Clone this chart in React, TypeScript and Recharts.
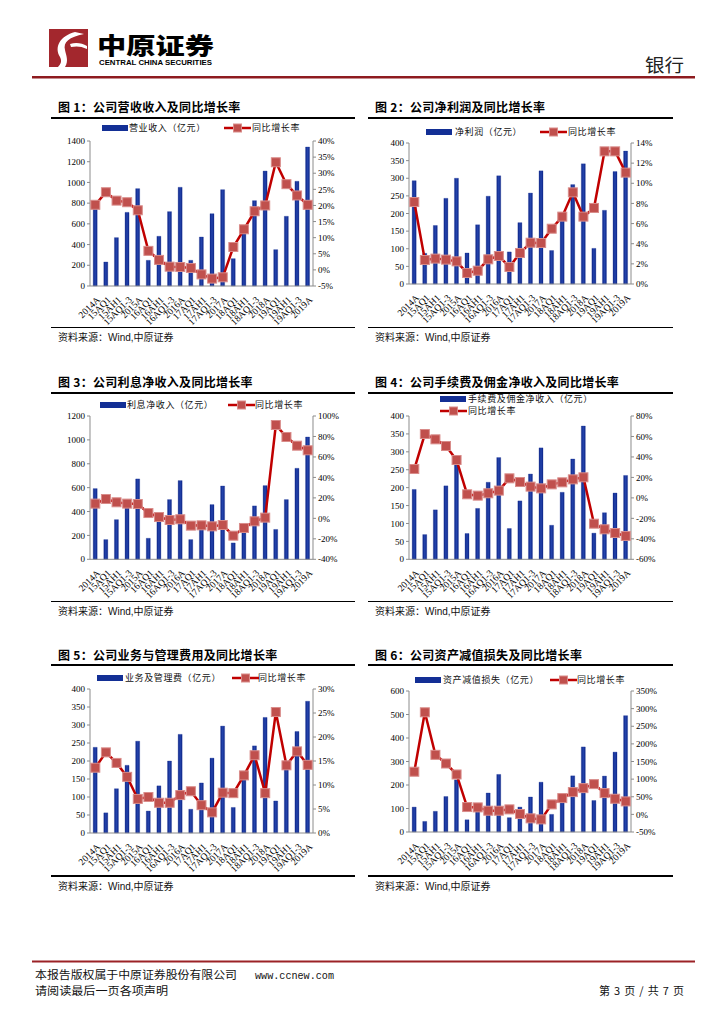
import React from 'react'
import { ComposedChart, Bar, Line, XAxis, YAxis } from 'recharts'

const categories = ['2014A', '15AQ1', '15AH1', '15AQ1-3', '2015A', '16AQ1', '16AH1', '16AQ1-3', '2016A', '17AQ1', '17AH1', '17AQ1-3', '2017A', '18AQ1', '18AH1', '18AQ1-3', '2018A', '19AQ1', '19AH1', '19AQ1-3', '2019A']

// 图1 营业收入
const revenue = [800, 232, 467, 711, 940, 248, 480, 718, 953, 248, 473, 698, 930, 264, 535, 824, 1110, 351, 673, 1011, 1342]
const revenueGrowth = [20.2, 24.1, 21.5, 21.0, 18.5, 5.9, 3.1, 1.0, 0.9, 0.6, -1.4, -2.7, -2.3, 7.1, 12.6, 18.2, 20.0, 33.4, 26.6, 23.1, 20.2]
// 图2 净利润
const profit = [293, 87, 166, 243, 300, 88, 168, 249, 307, 91, 174, 258, 321, 95, 186, 282, 341, 101, 209, 319, 377]
const profitGrowth = [8.14, 2.38, 2.52, 2.42, 2.25, 1.09, 1.32, 2.45, 2.78, 1.69, 3.08, 4.1, 4.07, 5.49, 6.69, 9.1, 6.69, 7.55, 13.17, 13.17, 11.06]
// 图3 利息净收入
const interest = [592, 165, 332, 470, 673, 176, 340, 500, 659, 165, 305, 458, 614, 137, 290, 447, 617, 250, 500, 762, 1024]
const interestGrowth = [14.4, 18.9, 15.7, 14.4, 14.0, 5.2, 1.3, -1.6, -0.9, -7.1, -6.8, -7.8, -6.5, -16.9, -9.4, -2.9, 0.7, 91.2, 79.5, 71.0, 66.5]
// 图4 手续费及佣金净收入
const fee = [195, 69, 138, 205, 265, 72, 142, 215, 284, 86, 163, 238, 311, 95, 187, 280, 372, 73, 130, 185, 234]
const feeGrowth = [28.2, 62.4, 57.2, 50.7, 37.0, 3.5, 2.2, 4.5, 7.1, 19.1, 15.5, 11.0, 9.3, 13.2, 15.2, 18.1, 20.1, -25.2, -30.7, -34.3, -37.2]
// 图5 业务及管理费
const expense = [238, 56, 123, 188, 255, 61, 131, 200, 274, 66, 139, 208, 297, 71, 155, 242, 321, 89, 178, 282, 366]
const expenseGrowth = [13.6, 16.8, 14.6, 11.7, 7.1, 7.5, 6.3, 6.3, 7.9, 8.7, 5.8, 4.3, 8.4, 8.3, 12.0, 16.2, 8.3, 25.2, 14.1, 17.0, 14.2]
// 图6 资产减值损失
const impairment = [106, 45, 88, 151, 222, 52, 100, 166, 245, 61, 106, 149, 212, 75, 130, 239, 362, 134, 238, 340, 495]
const impairmentGrowth = [121, 289.6, 168.9, 144.3, 113.2, 20.8, 19.8, 10.4, 10.4, 14.2, 1.0, -11.3, -14.2, 28.3, 46.2, 63.2, 74.5, 85.8, 60.4, 44.3, 36.8]

const ticks1L = [0, 200, 400, 600, 800, 1000, 1200, 1400]
const ticks1R = [-5, 0, 5, 10, 15, 20, 25, 30, 35, 40]
const ticks2L = [0, 50, 100, 150, 200, 250, 300, 350, 400]
const ticks2R = [0, 2, 4, 6, 8, 10, 12, 14]
const ticks3L = [0, 200, 400, 600, 800, 1000, 1200]
const ticks3R = [-40, -20, 0, 20, 40, 60, 80, 100]
const ticks4L = [0, 50, 100, 150, 200, 250, 300, 350, 400]
const ticks4R = [-60, -40, -20, 0, 20, 40, 60, 80]
const ticks5L = [0, 50, 100, 150, 200, 250, 300, 350, 400]
const ticks5R = [0, 5, 10, 15, 20, 25, 30]
const ticks6L = [0, 100, 200, 300, 400, 500, 600]
const ticks6R = [-50, 0, 50, 100, 150, 200, 250, 300, 350]

const serif = '"Liberation Serif", "Times New Roman", serif'
const cjk = '"Noto Sans CJK SC", sans-serif'
const axisColor = '#8c8c8c'
const barColor = '#132f95'
const lineColor = '#c00000'

const makeData = (bars: number[], rates: number[]) =>
  categories.map((name, i) => ({ name, v: bars[i], r: rates[i] }))

const XTick = (props: any) => {
  const { x, y, payload } = props
  return (
    <g transform={`translate(${x + 3},${y + 4}) rotate(-45)`}>
      <text x={0} y={0} dy="0.35em" textAnchor="end" fontSize={9.5} fontFamily={serif} fill="#000">
        {payload.value}
      </text>
    </g>
  )
}

const SquareDot = (props: any) => {
  const { cx, cy } = props
  if (cx == null || cy == null) return null
  return <rect x={cx - 4.5} y={cy - 4.5} width={9} height={9} fill="#c0504d" stroke="#d98c8a" strokeWidth={1} />
}

type ChartProps = {
  id: string
  data: { name: string; v: number; r: number }[]
  chartLeft: number
  plotTop: number
  plotBottom: number
  leftWidth: number
  rightWidth: number
  leftTicks: number[]
  rightTicks: number[]
}

function DualChart({ id, data, chartLeft, plotTop, plotBottom, leftWidth, rightWidth, leftTicks, rightTicks }: ChartProps) {
  const mt = 10
  const xh = 50
  const h = mt + (plotBottom - plotTop) + xh
  const tickStyle = { fontSize: 9, fill: '#000', fontFamily: serif }
  return (
    <div style={{ position: 'absolute', left: chartLeft, top: plotTop - mt }}>
      <ComposedChart width={320} height={h} data={data} margin={{ top: mt, right: 0, bottom: 0, left: 0 }} barCategoryGap="30%">
        <defs>
          <linearGradient id={id} x1="0" y1="0" x2="1" y2="0">
            <stop offset="0%" stopColor="#0e2687" />
            <stop offset="50%" stopColor="#2444ad" />
            <stop offset="100%" stopColor="#0e2687" />
          </linearGradient>
        </defs>
        <XAxis dataKey="name" interval={0} tick={<XTick />} tickLine={false} stroke={axisColor} height={xh} />
        <YAxis
          yAxisId="l"
          width={leftWidth}
          domain={[leftTicks[0], leftTicks[leftTicks.length - 1]]}
          ticks={leftTicks}
          interval={0}
          tick={tickStyle}
          tickSize={3}
          stroke={axisColor}
        />
        <YAxis
          yAxisId="r"
          orientation="right"
          width={rightWidth}
          domain={[rightTicks[0], rightTicks[rightTicks.length - 1]]}
          ticks={rightTicks}
          interval={0}
          tick={tickStyle}
          tickSize={3}
          stroke={axisColor}
          tickFormatter={(v: number) => `${v}%`}
        />
        <Bar yAxisId="l" dataKey="v" fill={`url(#${id})`} stroke={barColor} strokeWidth={0.3} isAnimationActive={false} />
        <Line
          yAxisId="r"
          dataKey="r"
          type="linear"
          stroke={lineColor}
          strokeWidth={2.5}
          dot={<SquareDot />}
          activeDot={false}
          isAnimationActive={false}
        />
      </ComposedChart>
    </div>
  )
}

const BarIcon = ({ x, y }: { x: number; y: number }) => (
  <div style={{ position: 'absolute', left: x, top: y - 3, width: 26, height: 6, background: barColor }} />
)

const LineIcon = ({ x, y }: { x: number; y: number }) => (
  <svg style={{ position: 'absolute', left: x, top: y - 5 }} width={27} height={10}>
    <line x1={0} y1={5} x2={27} y2={5} stroke={lineColor} strokeWidth={2.5} />
    <rect x={9.5} y={1} width={8} height={8} fill="#c0504d" stroke="#d98c8a" strokeWidth={1} />
  </svg>
)

const Label = ({ x, y, text }: { x: number; y: number; text: string }) => (
  <div style={{ position: 'absolute', left: x, top: y - 7, lineHeight: '14px', fontSize: 9, fontFamily: cjk, letterSpacing: 0.6, whiteSpace: 'nowrap', color: '#111' }}>
    {text}
  </div>
)

const Frame = ({ x1, x2, titleY, topLine, bottomLine, title }: { x1: number; x2: number; titleY: number; topLine: number; bottomLine: number; title: string }) => (
  <>
    <div style={{ position: 'absolute', left: x1 + 7, top: titleY - 8, lineHeight: '16px', fontSize: 12, fontWeight: 700, fontFamily: cjk, whiteSpace: 'nowrap', color: '#000', letterSpacing: 0.3 }}>
      {title}
    </div>
    <div style={{ position: 'absolute', left: x1, top: topLine - 1, width: x2 - x1, height: 2, background: '#000' }} />
    <div style={{ position: 'absolute', left: x1, top: bottomLine - 0.5, width: x2 - x1, height: 1.5, background: '#000' }} />
    <div style={{ position: 'absolute', left: x1 + 7, top: bottomLine + 4, lineHeight: '14px', fontSize: 10, fontFamily: '"Liberation Sans", "Noto Sans CJK SC", sans-serif', whiteSpace: 'nowrap', color: '#111' }}>
      资料来源：Wind,中原证券
    </div>
  </>
)

export default function App() {
  return (
    <div style={{ position: 'absolute', left: 0, top: 0, width: 724, height: 1024, background: '#fff', overflow: 'hidden' }}>
      {/* 页眉 */}
      <svg style={{ position: 'absolute', left: 0, top: 0 }} width={724} height={90}>
        <rect x={49} y={29} width={39} height={38} fill="#a3272d" />
        <path d="M75 32 C60 36 54 47 60 57 C62 61 61 64 58 67 L65 67 C69 61 66 55 65 50 C63 42 69 37 84 34 Z" fill="#fff" />
        <path d="M70 44 C76 42 82 43 87 46 L87 49 C81 46 76 46 71 47 Z" fill="#fff" />
        <text x={97} y={54} fontSize={23} fontWeight={900} fontFamily={cjk} textLength={117} lengthAdjust="spacingAndGlyphs">中原证券</text>
        <text x={99} y={65} fontSize={7} fontWeight={700} fontFamily='"Liberation Sans", sans-serif' textLength={113} lengthAdjust="spacingAndGlyphs">CENTRAL CHINA SECURITIES</text>
        <text x={645} y={72} fontSize={18} fontFamily={cjk} textLength={39} lengthAdjust="spacingAndGlyphs" fill="#222">银行</text>
        <rect x={32} y={76} width={663} height={2.5} fill="#8e1b1f" />
      </svg>

      {/* 图1 */}
      <Frame x1={51} x2={355} titleY={107} topLine={117.7} bottomLine={327} title="图 1：公司营收收入及同比增长率" />
      <BarIcon x={102} y={128} />
      <Label x={129} y={128} text="营业收入（亿元）" />
      <LineIcon x={224} y={128} />
      <Label x={252} y={128} text="同比增长率" />
      <DualChart id="g1" data={makeData(revenue, revenueGrowth)} chartLeft={40} plotTop={140.7} plotBottom={285.7} leftWidth={50} rightWidth={47} leftTicks={ticks1L} rightTicks={ticks1R} />

      {/* 图2 */}
      <Frame x1={368} x2={673} titleY={107} topLine={117.7} bottomLine={327} title="图 2：公司净利润及同比增长率" />
      <BarIcon x={426} y={132} />
      <Label x={455} y={132} text="净利润（亿元）" />
      <LineIcon x={540} y={132} />
      <Label x={568} y={132} text="同比增长率" />
      <DualChart id="g2" data={makeData(profit, profitGrowth)} chartLeft={360} plotTop={143.3} plotBottom={284.3} leftWidth={49} rightWidth={49} leftTicks={ticks2L} rightTicks={ticks2R} />

      {/* 图3 */}
      <Frame x1={51} x2={355} titleY={382} topLine={392.7} bottomLine={601} title="图 3：公司利息净收入及同比增长率" />
      <BarIcon x={100} y={405} />
      <Label x={127} y={405} text="利息净收入（亿元）" />
      <LineIcon x={228} y={405} />
      <Label x={255} y={405} text="同比增长率" />
      <DualChart id="g3" data={makeData(interest, interestGrowth)} chartLeft={40} plotTop={415.7} plotBottom={559} leftWidth={50} rightWidth={47} leftTicks={ticks3L} rightTicks={ticks3R} />

      {/* 图4 */}
      <Frame x1={368} x2={673} titleY={382} topLine={392.7} bottomLine={601} title="图 4：公司手续费及佣金净收入及同比增长率" />
      <BarIcon x={440} y={399} />
      <Label x={468} y={399} text="手续费及佣金净收入（亿元）" />
      <LineIcon x={440} y={410.7} />
      <Label x={468} y={410.7} text="同比增长率" />
      <DualChart id="g4" data={makeData(fee, feeGrowth)} chartLeft={360} plotTop={415.7} plotBottom={559} leftWidth={49} rightWidth={49} leftTicks={ticks4L} rightTicks={ticks4R} />

      {/* 图5 */}
      <Frame x1={51} x2={355} titleY={655} topLine={665} bottomLine={875.7} title="图 5：公司业务与管理费用及同比增长率" />
      <BarIcon x={97} y={678} />
      <Label x={125} y={678} text="业务及管理费（亿元）" />
      <LineIcon x={232} y={678} />
      <Label x={258} y={678} text="同比增长率" />
      <DualChart id="g5" data={makeData(expense, expenseGrowth)} chartLeft={40} plotTop={689} plotBottom={833} leftWidth={50} rightWidth={47} leftTicks={ticks5L} rightTicks={ticks5R} />

      {/* 图6 */}
      <Frame x1={368} x2={673} titleY={655} topLine={665} bottomLine={875.7} title="图 6：公司资产减值损失及同比增长率" />
      <BarIcon x={415} y={680} />
      <Label x={443} y={680} text="资产减值损失（亿元）" />
      <LineIcon x={550} y={680} />
      <Label x={577} y={680} text="同比增长率" />
      <DualChart id="g6" data={makeData(impairment, impairmentGrowth)} chartLeft={360} plotTop={691} plotBottom={832} leftWidth={49} rightWidth={49} leftTicks={ticks6L} rightTicks={ticks6R} />

      {/* 页脚 */}
      <svg style={{ position: 'absolute', left: 0, top: 950 }} width={724} height={74}>
        <rect x={32} y={10.5} width={663} height={2} fill="#9b2226" />
        <text x={35} y={29} fontSize={11} fontFamily={cjk} textLength={202} lengthAdjust="spacingAndGlyphs" fill="#111">本报告版权属于中原证券股份有限公司</text>
        <text x={255} y={29} fontSize={11} fontFamily='"Liberation Mono", monospace' textLength={79} lengthAdjust="spacingAndGlyphs" fill="#111">www.ccnew.com</text>
        <text x={35} y={45} fontSize={11} fontFamily={cjk} textLength={133} lengthAdjust="spacingAndGlyphs" fill="#111">请阅读最后一页各项声明</text>
        <text x={599} y={45} fontSize={11} fontFamily={cjk} textLength={85} lengthAdjust="spacing" fill="#111">{'第\u00a03\u00a0页\u00a0/\u00a0共\u00a07\u00a0页'}</text>
      </svg>
    </div>
  )
}
